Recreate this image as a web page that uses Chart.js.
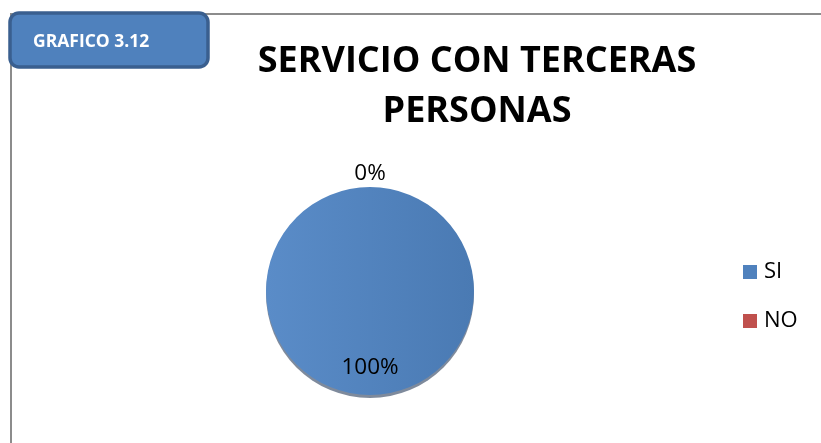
<!DOCTYPE html>
<html>
<head>
<meta charset="utf-8">
<script src="https://cdn.jsdelivr.net/npm/chart.js@4"></script>
<style>
  html, body { margin: 0; padding: 0; background: #fff; }
  #wrap { width: 821px; height: 443px; position: relative; }
</style>
</head>
<body>
<div id="wrap"><canvas id="pie-chart" width="821" height="443"></canvas></div>
<script>
const categories = ['SI', 'NO'];
const values = [100, 0];            // percent
const sliceColors = ['#4f81bd', '#c0504d'];
const titleLines = ['SERVICIO CON TERCERAS', 'PERSONAS'];
const badgeText = 'GRAFICO 3.12';

const FONT = '"Open Sans", "Liberation Sans", sans-serif';

// frame, badge, title, legend and the percent labels
const decorPlugin = {
  id: 'decor',
  beforeDraw(chart) {
    const ctx = chart.ctx;
    ctx.save();
    ctx.fillStyle = '#fff';
    ctx.fillRect(0, 0, chart.width, chart.height);
    // frame lines
    ctx.strokeStyle = '#8c8c8c';
    ctx.lineWidth = 2;
    ctx.beginPath();
    ctx.moveTo(11, 443);
    ctx.lineTo(11, 14);
    ctx.lineTo(821, 14);
    ctx.stroke();
    ctx.restore();
  },
  beforeDatasetsDraw(chart) {
    // soft shadow under the pie
    const arc = chart.getDatasetMeta(0).data[0];
    const ctx = chart.ctx;
    ctx.save();
    ctx.fillStyle = 'rgba(40,60,90,0.6)';
    ctx.beginPath();
    ctx.arc(arc.x, arc.y + 3, arc.outerRadius, 0, Math.PI * 2);
    ctx.fill();
    ctx.restore();
  },
  afterDraw(chart) {
    const ctx = chart.ctx;
    ctx.save();

    // badge
    const bx = 10, by = 13, bw = 198, bh = 54, r = 9;
    ctx.beginPath();
    ctx.roundRect(bx, by, bw, bh, r);
    ctx.fillStyle = '#4f81bd';
    ctx.fill();
    ctx.lineWidth = 3.5;
    ctx.strokeStyle = '#3a5f8f';
    ctx.stroke();
    ctx.fillStyle = '#fff';
    ctx.font = 'bold 17.5px ' + FONT;
    ctx.textBaseline = 'middle';
    ctx.textAlign = 'left';
    ctx.fillText(badgeText, 33, 42);

    // title
    ctx.fillStyle = '#000';
    ctx.font = 'bold 36px ' + FONT;
    ctx.textAlign = 'center';
    ctx.fillText(titleLines[0], 477, 62);
    ctx.fillText(titleLines[1], 477, 112);

    // percent labels
    const meta = chart.getDatasetMeta(0);
    ctx.font = '22.5px ' + FONT;
    meta.data.forEach((a, i) => {
      const mid = (a.startAngle + a.endAngle) / 2;
      const rad = values[i] === 0 ? a.outerRadius + 13 : a.outerRadius * 0.74;
      ctx.fillText(values[i] + '%', a.x + Math.cos(mid) * rad, a.y + Math.sin(mid) * rad);
    });

    // legend
    ctx.textAlign = 'left';
    ctx.font = '22px ' + FONT;
    categories.forEach((c, i) => {
      const y = 272 + i * 49;
      ctx.fillStyle = sliceColors[i];
      ctx.fillRect(743, y - 7, 14, 14);
      ctx.fillStyle = '#000';
      ctx.fillText(c, 764, y);
    });
    ctx.restore();
  }
};

const canvas = document.getElementById('pie-chart');
const g = canvas.getContext('2d');
const grad = g.createLinearGradient(266, 0, 474, 0);
grad.addColorStop(0, '#5a8cc8');
grad.addColorStop(1, '#4a7ab3');

new Chart(canvas, {
  type: 'pie',
  data: {
    labels: categories,
    datasets: [{
      data: values,
      backgroundColor: [grad, sliceColors[1]],
      borderWidth: 0
    }]
  },
  options: {
    responsive: false,
    animation: false,
    layout: {
      padding: { left: 266, right: 347, top: 187, bottom: 48 }
    },
    plugins: {
      legend: { display: false },
      tooltip: { enabled: false }
    }
  },
  plugins: [decorPlugin]
});
</script>
</body>
</html>
